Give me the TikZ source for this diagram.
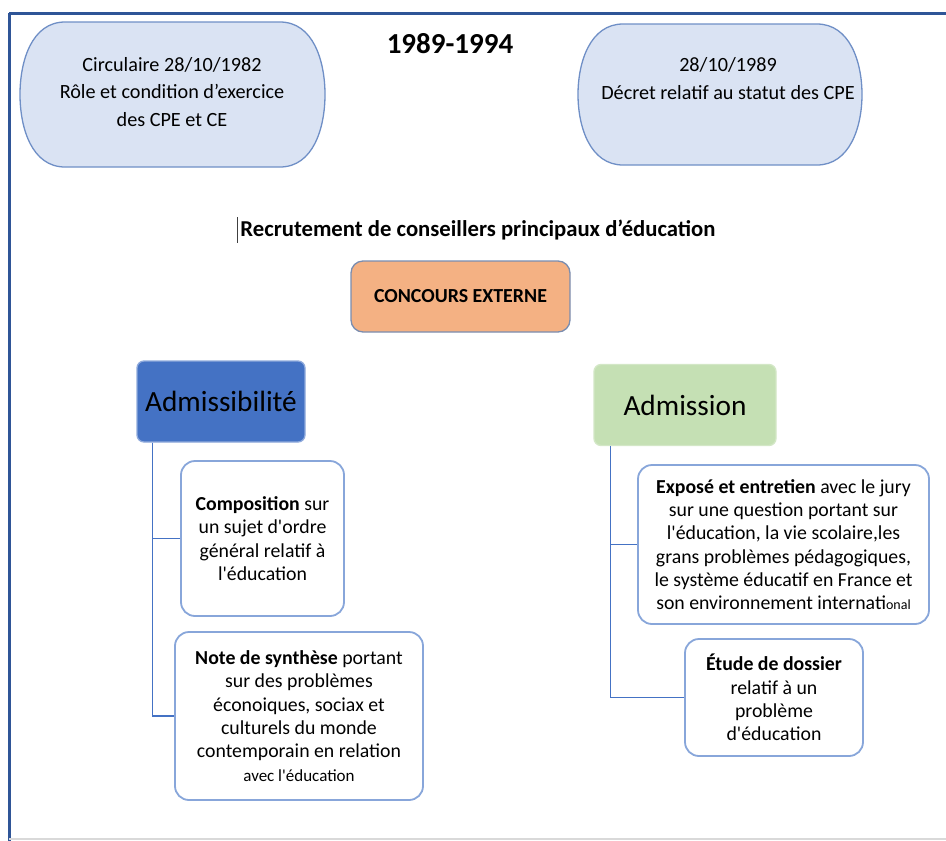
\documentclass[tikz,border=0pt]{standalone}
\usepackage{fontspec}
\setmainfont{Carlito}[Ligatures=TeXOff]
\usetikzlibrary{positioning}

\definecolor{framecol}{HTML}{2F5597}
\definecolor{pillfill}{HTML}{DAE3F3}
\definecolor{pillborder}{HTML}{6F8FC6}
\definecolor{concfill}{HTML}{F4B183}
\definecolor{concborder}{HTML}{7A8DB0}
\definecolor{admifill}{HTML}{4472C4}
\definecolor{admiborder}{HTML}{8FAADC}
\definecolor{admfill}{HTML}{C5E0B4}
\definecolor{admborder}{HTML}{D3E7C6}
\definecolor{itemborder}{HTML}{88A6DA}
\definecolor{linkcol}{HTML}{4472C4}

\begin{document}
\begin{tikzpicture}[
					x=1pt, y=1pt,
					pill/.style={draw=pillborder, fill=pillfill, line width=1.3pt},
					toptext/.style={align=center, font=\fontsize{20.2}{27.5}\selectfont},
					concours/.style={draw=concborder, fill=concfill, rounded corners=12pt, line width=1.3pt,
						minimum width=219pt, minimum height=71pt, font=\bfseries\fontsize{19.9}{22}\selectfont},
					phase/.style={rounded corners=7pt, line width=1.3pt, minimum height=81pt,
						font=\fontsize{29.3}{35}\selectfont},
					item/.style={draw=itemborder, fill=white, rounded corners=14pt, line width=1.8pt,
						align=center, font=\fontsize{19.8}{23.3}\selectfont},
					link/.style={draw=linkcol, line width=1.3pt}
					]
					\useasboundingbox (0,0) rectangle (946,-841);
					
					% Frame
					\draw[framecol, line width=3pt] (9,-13) -- (946,-13);
					\draw[framecol, line width=3pt] (9,-13) -- (9,-841);
					\draw[gray!30, line width=2.5pt] (9,-839) -- (946,-839);
					
					% Texts of 1982 and 1989
					\draw[pill] (65,-22) -- (280,-22) to[out=0,in=90] (325,-94.5) to[out=-90,in=0] (280,-167)
						-- (65,-167) to[out=180,in=-90] (20,-94.5) to[out=90,in=180] cycle;
					\draw[pill] (623,-24) -- (817,-24) to[out=0,in=90] (862,-94.5) to[out=-90,in=0] (817,-165)
						-- (623,-165) to[out=180,in=-90] (578,-94.5) to[out=90,in=180] cycle;
					\node[toptext] (circulaire) at (172,-92) {Circulaire 28/10/1982\\Rôle et condition d’exercice\\des CPE et CE};
					\node[toptext] (decret) at (728,-78.5) {28/10/1989\\Décret relatif au statut des CPE};
					\node[font=\bfseries\fontsize{29}{35}\selectfont] (periode) at (450,-44) {1989-1994};
					
					% Nodes
					\draw[darkgray, line width=1pt] (237,-217) -- (237,-243);
					\node[font=\bfseries\fontsize{22.7}{26}\selectfont] (titre) at (478,-230) {Recrutement de conseillers principaux d’éducation};
					\node[concours] (concours) at (460.5,-296.5) {CONCOURS EXTERNE};
					\node[phase, draw=admiborder, fill=admifill, minimum width=168pt] (admissibilite) at (221,-401.5) {Admissibilité};
					\node[phase, draw=admborder, fill=admfill, minimum width=182pt] (admission) at (685,-405) {Admission};
					
					% Child nodes
					\node[item, minimum width=163pt, minimum height=155pt] (composition) at (262.5,-538.5)
						{\textbf{Composition} sur\\un sujet d'ordre\\général relatif à\\l'éducation};
					\node[item, minimum width=248pt, minimum height=168pt] (note) at (299,-716)
						{\textbf{Note de synthèse} portant\\sur des problèmes\\éconoiques, sociax et\\culturels du monde\\contemporain en relation\\{\fontsize{17}{20}\selectfont avec l'éducation}};
					\node[item, minimum width=291pt, minimum height=159pt] (expose) at (783.5,-544.5)
						{\textbf{Exposé et entretien} avec le jury\\sur une question portant sur\\l'éducation, la vie scolaire,les\\grans problèmes pédagogiques,\\le système éducatif en France et\\son environnement internati{\fontsize{14}{15}\selectfont onal}};
					\node[item, minimum width=178pt, minimum height=117pt] (etude) at (774,-697.5)
						{\textbf{Étude de dossier}\\relatif à un\\problème\\d'éducation};
					
					% Edges
					\draw[link] ([xshift=16pt]admissibilite.south west) |- (composition.west);
					\draw[link] ([xshift=16pt]admissibilite.south west) |- (note.west);
					\draw[link] ([xshift=17pt]admission.south west) |- (expose.west);
					\draw[link] ([xshift=17pt]admission.south west) |- (etude.west);
				\end{tikzpicture}
\end{document}
